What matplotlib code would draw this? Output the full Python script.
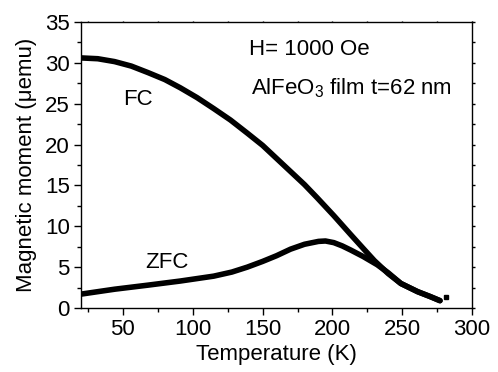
import matplotlib
matplotlib.use("Agg")
import matplotlib.pyplot as plt
from matplotlib.ticker import MultipleLocator

plt.rcParams["font.family"] = ["Liberation Sans", "DejaVu Sans"]
plt.rcParams["mathtext.fontset"] = "custom"
plt.rcParams["mathtext.rm"] = "Liberation Sans"
plt.rcParams["mathtext.it"] = "Liberation Sans:italic"

# Field-cooled curve
fc_temp = [20, 32, 44, 56, 68, 80, 91, 103, 115, 127, 139, 150, 160, 170, 180,
           189, 201, 213, 222, 230, 240, 249, 261, 270, 277]
fc_moment = [30.6, 30.5, 30.15, 29.6, 28.8, 27.95, 26.95, 25.75, 24.4, 23.0,
             21.4, 19.9, 18.3, 16.7, 15.1, 13.5, 11.3, 9.0, 7.3, 5.8, 4.2, 3.0,
             2.0, 1.4, 0.9]

# Zero-field-cooled curve
zfc_temp = [20, 44, 68, 91, 115, 128, 139, 150, 160, 170, 180, 190, 195, 201,
            207, 213, 222, 232, 240, 249, 261, 270, 277]
zfc_moment = [1.7, 2.3, 2.8, 3.3, 3.9, 4.4, 5.0, 5.7, 6.4, 7.2, 7.8, 8.15, 8.2,
              8.0, 7.6, 7.1, 6.3, 5.3, 4.3, 3.0, 2.0, 1.4, 0.9]

# stray points at the high-temperature end
tail_temp = [281]
tail_moment = [1.3]

fig = plt.figure(figsize=(4.98, 3.72), dpi=100)
ax = fig.add_axes([0.1627, 0.172, 0.7853, 0.769])

ax.plot(fc_temp, fc_moment, color="black", linewidth=4, solid_joinstyle="round",
        solid_capstyle="round")
ax.plot(zfc_temp, zfc_moment, color="black", linewidth=4, solid_joinstyle="round",
        solid_capstyle="round")
ax.plot(tail_temp, tail_moment, "s", color="black", markersize=3)

ax.set_xlim(20, 300)
ax.set_ylim(0, 35)
ax.xaxis.set_major_locator(MultipleLocator(50))
ax.xaxis.set_minor_locator(MultipleLocator(25))
ax.yaxis.set_major_locator(MultipleLocator(5))
ax.yaxis.set_minor_locator(MultipleLocator(2.5))

ax.tick_params(axis="both", which="major", direction="out", length=5, width=1,
               labelsize=16, pad=3)
ax.tick_params(axis="both", which="minor", direction="out", length=3, width=1)
ax.tick_params(axis="y", which="both", right=True, labelright=False)
ax.tick_params(axis="x", which="both", top=True, labeltop=False)
for t in ax.yaxis.get_major_ticks() + ax.yaxis.get_minor_ticks():
    t.tick2line.set_markersize(2)
for t in ax.xaxis.get_major_ticks() + ax.xaxis.get_minor_ticks():
    t.tick2line.set_markersize(1)
    t.tick2line.set_color("#bbbbbb")
for s in ax.spines.values():
    s.set_linewidth(1)

ax.set_xlabel("Temperature (K)", fontsize=16, labelpad=3)
ax.set_ylabel("Magnetic moment (\u03bcemu)", fontsize=16, labelpad=6)

ax.text(140, 31.6, "H= 1000 Oe", fontsize=16, va="center", ha="left")
ax.text(142, 26.9, "AlFeO$_3$ film t=62 nm", fontsize=16, va="center", ha="left")
ax.text(50, 25.5, "FC", fontsize=16, va="center", ha="left")
ax.text(66, 5.6, "ZFC", fontsize=16, va="center", ha="left")

fig.savefig("out.png", dpi=100)
